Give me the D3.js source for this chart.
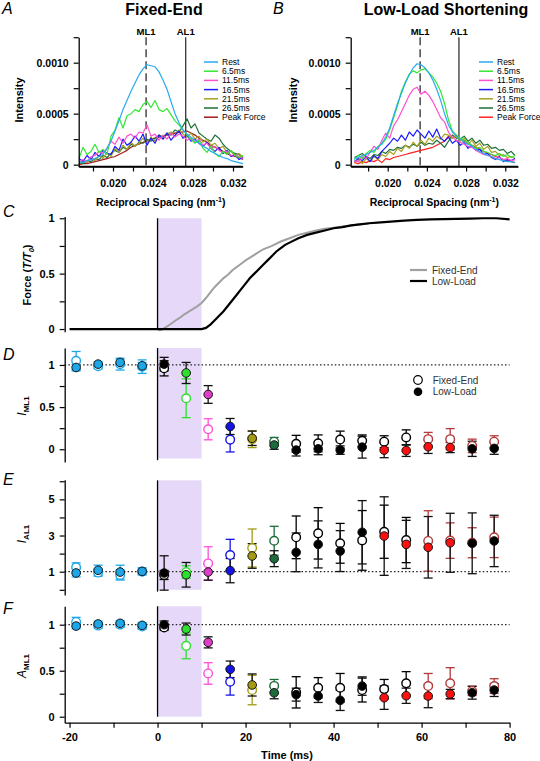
<!DOCTYPE html>
<html><head><meta charset="utf-8">
<script src="https://cdn.jsdelivr.net/npm/d3@7"></script>
<style>body{margin:0;background:#fff}svg{display:block}</style>
</head><body><svg id="c" width="540" height="761"></svg>
<script>
// ---------------- DATA ----------------
const spacing = [0.0166,0.0170,0.0174,0.0178,0.0182,0.0186,0.0190,0.0194,0.0198,0.0202,0.0206,0.0210,0.0214,0.0218,0.0222,0.0226,0.0230,0.0234,0.0238,0.0242,0.0246,0.0250,0.0254,0.0258,0.0262,0.0266,0.0270,0.0274,0.0278,0.0282,0.0286,0.0290,0.0294,0.0298,0.0302,0.0306,0.0310,0.0314,0.0318,0.0322,0.0326,0.0330];
const specLabels = ["Rest","6.5ms","11.5ms","16.5ms","21.5ms","26.5ms","Peak Force"];
const specColorsA = ["#29aaf0","#33e633","#ff50d0","#1a1aff","#a8a020","#1f6e3a","#a01c1c"];
const specColorsB = ["#29aaf0","#33e633","#ff50d0","#1a1aff","#a8a020","#1f6e3a","#ff2222"];
// intensities in units of 1e-4
const fixedRest  = [0.3,0.2,0.4,0.5,0.6,0.8,1.0,1.6,2.3,3.3,4.3,5.4,6.3,7.2,8.0,8.8,9.4,9.8,9.7,9.6,9.1,8.3,7.4,6.2,5.0,4.1,3.4,3.0,2.7,2.4,2.1,1.8,1.6,1.3,1.1,0.9,0.7,0.6,0.4,0.3,0.2,0.1];
const fixed6_5   = [0.6,1.7,1.0,1.3,2.0,1.2,1.5,1.0,2.8,3.4,4.6,3.6,4.8,5.0,5.4,5.2,5.9,6.2,5.6,6.3,5.4,5.2,5.5,4.9,4.3,3.9,3.4,2.9,2.5,2.1,2.4,1.6,1.2,1.8,1.1,0.8,1.3,1.0,1.4,0.9,0.7,0.9];
const fixed11_5  = [0.3,0.5,0.3,0.8,0.9,1.3,1.1,1.6,2.3,2.0,2.7,2.1,2.8,3.0,2.6,3.2,3.1,3.9,2.8,3.0,2.4,2.9,2.5,3.1,2.7,3.0,2.8,2.4,2.6,2.2,2.5,1.9,2.1,1.6,1.8,1.4,1.2,1.3,0.9,1.0,0.8,0.6];
const fixed16_5  = [0.6,0.3,0.9,0.5,1.2,0.8,1.4,1.1,1.0,1.8,1.4,2.5,1.9,2.2,2.8,2.3,3.0,1.9,2.6,2.1,2.9,2.5,3.1,2.4,2.9,3.3,2.6,2.9,2.3,2.5,2.1,1.8,2.2,1.6,1.3,1.7,1.1,1.4,0.8,1.0,0.5,0.7];
const fixed21_5  = [0.1,0.4,0.2,0.6,0.4,0.9,0.6,1.2,0.8,1.6,1.2,1.9,1.5,2.2,1.8,2.1,2.6,2.0,2.7,2.3,2.9,2.5,3.0,3.2,2.8,3.4,3.0,2.7,3.1,2.5,2.8,2.2,2.5,1.9,2.1,1.6,1.8,1.2,1.3,0.9,1.1,0.7];
const fixed26_5  = [0.2,0.1,0.4,0.3,0.6,0.5,0.9,0.7,1.1,1.4,1.2,1.7,1.5,2.0,1.8,2.2,2.1,2.5,2.3,2.6,2.9,2.7,3.1,2.9,3.4,3.2,3.8,4.5,3.6,4.0,3.1,2.8,2.5,2.3,2.9,2.6,2.0,1.6,1.3,1.1,1.0,0.7];
const fixedPeak  = [0.0,0.1,0.1,0.2,0.3,0.4,0.5,0.6,0.7,0.8,1.0,1.2,1.4,1.7,1.9,2.0,2.2,2.3,2.5,2.6,2.7,2.8,2.9,3.0,3.1,3.2,3.2,3.3,3.1,2.9,2.6,2.4,2.2,1.9,1.7,1.5,1.3,1.1,0.9,0.8,0.7,0.5];
const lowRest    = [0.6,0.7,0.9,1.0,1.2,1.4,1.7,2.1,2.7,3.6,4.8,6.0,7.0,8.0,8.8,9.5,9.9,9.8,9.5,9.0,8.3,7.4,6.3,5.0,3.9,3.2,2.8,2.5,2.2,2.0,1.8,1.5,1.3,1.1,0.9,0.8,0.6,0.5,0.4,0.3,0.3,0.2];
const low6_5     = [0.5,0.9,0.6,1.1,1.4,1.2,1.8,2.0,2.5,3.4,4.6,5.8,7.2,8.1,8.9,9.2,9.0,9.3,9.4,9.0,8.6,8.0,7.2,6.0,4.4,3.3,2.9,2.6,2.4,2.2,1.9,1.6,1.7,1.3,1.2,1.0,0.9,1.1,0.8,1.0,0.7,0.9];
const low11_5    = [0.4,0.3,0.8,0.6,1.2,1.8,1.5,2.4,3.1,2.6,3.8,4.4,5.2,6.0,6.8,7.4,7.6,6.9,7.2,6.8,6.2,5.4,4.6,4.2,3.2,2.7,2.4,2.2,2.0,1.8,1.7,1.4,1.2,1.0,0.9,0.8,0.6,0.7,0.5,0.6,0.4,0.5];
const low16_5    = [0.3,0.6,0.4,0.8,0.3,0.9,0.6,1.3,1.7,2.1,2.6,2.3,2.9,2.4,3.2,2.8,3.4,3.0,2.6,3.3,2.7,3.5,2.6,2.3,2.7,2.1,2.4,1.9,2.2,1.6,1.9,1.4,1.5,1.0,1.1,0.7,0.5,0.8,0.3,0.5,0.4,0.6];
const low21_5    = [0.2,0.5,0.1,0.6,0.3,0.8,0.5,1.0,0.8,1.3,1.0,1.6,1.3,1.9,1.6,2.2,1.8,2.4,2.0,2.6,2.3,2.8,2.5,3.0,2.9,2.6,2.8,2.3,2.6,2.0,2.4,1.8,2.1,1.5,1.8,1.2,1.3,0.9,1.0,0.7,0.8,0.6];
const low26_5    = [0.7,0.9,1.1,0.8,0.6,1.0,0.9,1.3,1.1,1.5,1.4,1.7,1.6,1.9,1.7,2.0,1.8,2.2,1.9,2.1,2.0,2.4,2.1,1.7,2.3,2.9,2.6,2.5,2.8,2.3,2.6,2.1,2.4,1.9,2.0,1.6,1.7,1.4,1.5,1.1,1.3,0.9];
const lowPeak    = [0.2,0.1,0.3,0.2,0.4,0.3,0.5,0.2,0.6,0.5,0.7,0.8,0.9,1.0,1.1,1.2,1.3,1.4,1.5,1.6,1.7,1.9,2.1,2.3,2.8,2.6,2.9,2.5,2.3,2.1,1.9,1.7,1.5,1.3,1.1,1.0,0.8,0.7,0.5,0.4,0.3,0.2];
const ML1 = 0.02331, AL1 = 0.02727;
const specYTicks = [0,2.5,5,7.5,10,12.5];
const specYLabels = ["0","","0.0005","","0.0010",""];
const specXTicks = [0.018,0.020,0.022,0.024,0.026,0.028,0.030,0.032];
const specXLabels = ["","0.020","","0.024","","0.028","","0.032"];

// Force traces
const forceLowT   = [-20,0,5,10,11,12,13,14,15,16,17,18,19,20,21,22,23,24,25,26,27,28,29,30,32,34,36,38,40,42,44,46,48,50,53,56,59,62,65,68,71,74,77,80];
const forceLowV   = [0,0,0,0,0.01,0.04,0.08,0.12,0.16,0.21,0.26,0.31,0.36,0.41,0.46,0.50,0.54,0.58,0.62,0.66,0.70,0.73,0.76,0.78,0.82,0.85,0.87,0.89,0.91,0.92,0.935,0.945,0.955,0.96,0.97,0.978,0.985,0.99,0.993,0.995,0.997,1.0,1.0,0.99];
const forceFixedT = [0,0.5,1,2,3,4,5,6,7,8,9,10,11,12,13,14,15,16,17,18,19,20,22,24,26,28,30,32,34,36,38,40,42,44,46,48];
const forceFixedV = [0,-0.01,-0.005,0.02,0.045,0.075,0.10,0.13,0.155,0.18,0.205,0.235,0.28,0.33,0.38,0.42,0.46,0.49,0.53,0.56,0.59,0.62,0.67,0.72,0.75,0.79,0.82,0.85,0.87,0.89,0.905,0.915,0.925,0.935,0.945,0.95];

// Time-resolved reflection data
const times = [-18.5,-13.5,-8.5,-3.5,1.5,6.5,11.5,16.5,21.5,26.5,31.5,36.5,41.5,46.5,51.5,56.5,61.5,66.5,71.5,76.5];
const imlFixed    = [1.05,0.985,1.01,0.98,0.96,0.605,0.237,0.114,0.12,0.09,0.065,0.07,0.115,0.10,0.09,0.14,0.12,0.12,0.04,0.09];
const imlFixedErr = [0.11,0.03,0.07,0.08,0.09,0.23,0.125,0.146,0.10,0.05,0.10,0.10,0.10,0.07,0.07,0.09,0.08,0.125,0.08,0.07];
const imlLow      = [0.97,1.01,1.03,0.99,1.01,0.905,0.65,0.27,0.13,0.05,-0.01,0.005,-0.01,0.025,-0.01,-0.015,0.03,0.02,0.005,0.01];
const imlLowErr   = [0.04,0.03,0.04,0.04,0.08,0.125,0.105,0.095,0.085,0.05,0.07,0.07,0.05,0.13,0.09,0.07,0.08,0.06,0.09,0.07];
const ialFixed    = [1.24,0.95,0.82,1.0,0.82,0.98,1.46,1.92,2.31,2.71,2.9,3.12,2.57,2.73,3.21,2.75,2.7,2.72,2.6,2.9];
const ialFixedErr = [0.25,0.2,0.28,0.15,0.25,0.35,0.92,0.87,1.05,0.8,1.18,1.42,1.1,1.65,1.47,1.25,1.67,0.98,0.83,1.12];
const ialLow      = [0.93,1.08,0.98,1.02,0.93,0.83,0.98,1.06,1.87,1.72,2.07,2.51,2.14,3.18,2.97,2.51,2.35,2.6,2.57,2.7];
const ialLowErr   = [0.22,0.28,0.38,0.2,0.95,0.68,0.45,0.67,0.68,0.44,1.07,1.3,1.13,1.75,2.17,1.33,1.7,1.63,1.68,1.42];
const amlFixed    = [1.03,0.99,1.0,0.98,0.97,0.77,0.47,0.38,0.29,0.335,0.265,0.315,0.315,0.29,0.30,0.363,0.333,0.363,0.28,0.333];
const amlFixedErr = [0.05,0.03,0.03,0.03,0.03,0.14,0.117,0.145,0.16,0.07,0.17,0.11,0.155,0.13,0.105,0.127,0.137,0.17,0.05,0.08];
const amlLow      = [0.985,1.008,1.015,0.993,1.0,0.953,0.808,0.515,0.345,0.26,0.24,0.225,0.178,0.333,0.207,0.228,0.225,0.247,0.261,0.29];
const amlLowErr   = [0.03,0.03,0.03,0.03,0.04,0.065,0.06,0.09,0.12,0.065,0.07,0.07,0.11,0.1,0.127,0.083,0.127,0.05,0.07,0.07];
const cRest="#1ea7e8", cG="#2ee02e", cPo="#ff4fd6", cPf="#e03ccc", cB="#1414e6", cO="#a39b14", cDG="#1d6b3a", cK="#000000", cDR="#b23a3a", cR="#ff1010";
const fixedColors = [cRest,cRest,cRest,cRest,cK,cG,cPo,cB,cO,cDG,cK,cK,cK,cK,cK,cK,cDR,cDR,cDR,cDR];
const lowColors   = [cRest,cRest,cRest,cRest,cK,cG,cPf,cB,cO,cDG,cK,cK,cK,cK,cR,cR,cR,cR,cK,cK];
const timeTicks = [-20,-10,0,10,20,30,40,50,60,70,80];
const timeLabels = ["-20","","0","","20","","40","","60","","80"];

// ---------------- DRAW ----------------
const FONT = '"Liberation Sans", Arial, Helvetica, sans-serif';
const svg = d3.select("#c").attr("font-family", FONT);

function styleAxis(g, size) {
  g.select(".domain").attr("stroke","#000").attr("stroke-width",1.3);
  g.selectAll(".tick line").attr("stroke","#000").attr("stroke-width",1.2);
  g.selectAll(".tick text").attr("font-family",FONT).attr("font-weight","bold").attr("font-size",size).attr("fill","#000");
}
function yAxis(scale, x, vals, labels, size) {
  const g = svg.append("g").attr("transform",`translate(${x},0)`)
    .call(d3.axisLeft(scale).tickValues(vals).tickSize(5).tickSizeOuter(0).tickPadding(5).tickFormat((d,i)=>labels[i]));
  styleAxis(g, size); return g;
}
function xAxis(scale, y, vals, labels, size, pad) {
  const g = svg.append("g").attr("transform",`translate(0,${y})`)
    .call(d3.axisBottom(scale).tickValues(vals).tickSize(5).tickSizeOuter(0).tickPadding(pad).tickFormat((d,i)=>labels[i]));
  styleAxis(g, size); return g;
}
function panelLetter(t, x, y) {
  svg.append("text").attr("x",x).attr("y",y).attr("font-size",16).attr("font-style","italic").text(t);
}

// ---- Spectra panels A & B ----
const ySpec = d3.scaleLinear().domain([-0.18,12.5]).range([166.5,37.2]);
function specPanel(xs, axisX, series, colors, title, titleX, letter, letterX, ylabX, legX) {
  panelLetter(letter, letterX, 14);
  svg.append("text").attr("x",titleX).attr("y",15).attr("text-anchor","middle").attr("font-weight","bold").attr("font-size",16).text(title);
  // reference lines
  svg.append("line").attr("x1",xs(ML1)).attr("x2",xs(ML1)).attr("y1",ySpec(12.5)).attr("y2",ySpec(-0.18))
    .attr("stroke","#555").attr("stroke-width",1.6).attr("stroke-dasharray","8,4");
  svg.append("line").attr("x1",xs(AL1)).attr("x2",xs(AL1)).attr("y1",ySpec(12.5)).attr("y2",ySpec(-0.18))
    .attr("stroke","#333").attr("stroke-width",1.3);
  svg.append("text").attr("x",xs(ML1)).attr("y",35).attr("text-anchor","middle").attr("font-weight","bold").attr("font-size",9.5).text("ML1");
  svg.append("text").attr("x",xs(AL1)).attr("y",35).attr("text-anchor","middle").attr("font-weight","bold").attr("font-size",9.5).text("AL1");
  const line = d3.line().x((d,i)=>xs(spacing[i])).y(d=>ySpec(d));
  for (let k = series.length-1; k >= 0; k--) {
    svg.append("path").attr("d",line(series[k])).attr("fill","none").attr("stroke",colors[k]).attr("stroke-width",1.2).attr("stroke-linejoin","round");
  }
  yAxis(ySpec, axisX, specYTicks, specYLabels, 10.5);
  xAxis(xs, 166.5, specXTicks, specXLabels, 10.5, 8);
  svg.append("line").attr("x1",axisX).attr("x2",xs.range()[1]).attr("y1",166.5).attr("y2",166.5).attr("stroke","#000").attr("stroke-width",1.3);
  svg.append("text").attr("transform",`translate(${ylabX},${100}) rotate(-90)`).attr("text-anchor","middle").attr("font-weight","bold").attr("font-size",11).text("Intensity");
  const t = svg.append("text").attr("x",(axisX+xs.range()[1])/2).attr("y",206).attr("text-anchor","middle").attr("font-weight","bold").attr("font-size",10.5);
  t.append("tspan").text("Reciprocal Spacing (nm");
  t.append("tspan").attr("font-size",7).attr("dy",-4).text("-1");
  t.append("tspan").attr("dy",4).text(")");
  // legend
  specLabels.forEach((lab,i)=>{
    const y = 62 + i*9.2;
    svg.append("line").attr("x1",legX).attr("x2",legX+14).attr("y1",y).attr("y2",y).attr("stroke",colors[i]).attr("stroke-width",1.5);
    svg.append("text").attr("x",legX+18).attr("y",y+3).attr("font-size",8.5).text(lab);
  });
}
const xA = d3.scaleLinear().domain([0.01657,0.03297]).range([78.7,242.7]);
const xB = d3.scaleLinear().domain([0.01622,0.0333]).range([350.7,518]);
specPanel(xA, 78.7, [fixedRest,fixed6_5,fixed11_5,fixed16_5,fixed21_5,fixed26_5,fixedPeak], specColorsA, "Fixed-End", 164, "A", 2, 23, 204);
specPanel(xB, 350.7, [lowRest,low6_5,low11_5,low16_5,low21_5,low26_5,lowPeak], specColorsB, "Low-Load Shortening", 446, "B", 273, 297, 479);

// ---- Time panels ----
const xT = d3.scaleLinear().domain([-21.1,80]).range([64.7,509.6]);
const AX = 64.7;

function shadeAndZero(ys, top, bottom, zeroBottom) {
  svg.append("rect").attr("x",xT(0)).attr("width",xT(10)-xT(0)).attr("y",ys(top)).attr("height",ys(bottom)-ys(top)).attr("fill","#e6d8f8");
  svg.append("line").attr("x1",xT(0)).attr("x2",xT(0)).attr("y1",ys(top)).attr("y2",ys(zeroBottom)).attr("stroke","#000").attr("stroke-width",1.3);
}
function dotted(ys) {
  svg.append("line").attr("x1",AX).attr("x2",xT(80)).attr("y1",ys(1)).attr("y2",ys(1)).attr("stroke","#222").attr("stroke-width",1.2).attr("stroke-dasharray","1.5,2.2");
}
function points(ys, fv, fe, lv, le) {
  const cap = 4.5;
  const draw = (vals, errs, colorsArr, filled) => {
    vals.forEach((v,i)=>{
      const x = xT(times[i]);
      const ec = filled ? (i < 4 ? cRest : "#111") : colorsArr[i];
      const g = svg.append("g").attr("stroke",ec).attr("stroke-width",1.3);
      g.append("line").attr("x1",x).attr("x2",x).attr("y1",ys(v-errs[i])).attr("y2",ys(v+errs[i]));
      g.append("line").attr("x1",x-cap).attr("x2",x+cap).attr("y1",ys(v-errs[i])).attr("y2",ys(v-errs[i]));
      g.append("line").attr("x1",x-cap).attr("x2",x+cap).attr("y1",ys(v+errs[i])).attr("y2",ys(v+errs[i]));
    });
  };
  draw(fv, fe, fixedColors, false);
  draw(lv, le, lowColors, true);
  fv.forEach((v,i)=>{
    svg.append("circle").attr("cx",xT(times[i])).attr("cy",ys(v)).attr("r",4.3).attr("fill","#fff").attr("stroke",fixedColors[i]).attr("stroke-width",1.4);
  });
  lv.forEach((v,i)=>{
    svg.append("circle").attr("cx",xT(times[i])).attr("cy",ys(v)).attr("r",4.3).attr("fill",lowColors[i]).attr("stroke","#111").attr("stroke-width",1);
  });
}
function subLabel(x, y, main, sub, italicMain) {
  const t = svg.append("text").attr("transform",`translate(${x},${y}) rotate(-90)`).attr("text-anchor","middle").attr("font-size",12);
  t.append("tspan").attr("font-style","italic").attr("font-weight", italicMain ? "normal" : "bold").text(main);
  t.append("tspan").attr("font-size",8).attr("font-weight","bold").attr("dy",3).text(sub);
}

// C
const yC = d3.scaleLinear().domain([-0.025,1.015]).range([331.8,216.6]);
panelLetter("C", 3, 217);
shadeAndZero(yC, 1, 0, 0);
const lineF = (ts) => d3.line().x((d,i)=>xT(ts[i])).y(d=>yC(d));
svg.append("path").attr("d",lineF(forceFixedT)(forceFixedV)).attr("fill","none").attr("stroke","#a0a0a0").attr("stroke-width",2);
svg.append("path").attr("d",lineF(forceLowT)(forceLowV)).attr("fill","none").attr("stroke","#000").attr("stroke-width",2.2);
yAxis(yC, AX, [0,0.25,0.5,0.75,1], ["0","","0.5","","1"], 11);
{
  const t = svg.append("text").attr("transform",`translate(31,275) rotate(-90)`).attr("text-anchor","middle").attr("font-size",11).attr("font-weight","bold");
  t.append("tspan").text("Force (");
  t.append("tspan").attr("font-style","italic").text("T/T");
  t.append("tspan").attr("font-style","italic").attr("font-size",7.5).attr("dy",3).text("0");
  t.append("tspan").attr("dy",-3).text(")");
}
[["Fixed-End","#a0a0a0",270],["Low-Load","#000",281]].forEach(([lab,col,y])=>{
  svg.append("line").attr("x1",410).attr("x2",427).attr("y1",y).attr("y2",y).attr("stroke",col).attr("stroke-width",2.2);
  svg.append("text").attr("x",432).attr("y",y+3.5).attr("font-size",10).attr("fill","#333").text(lab);
});

// D
const yD = d3.scaleLinear().domain([-0.15,1.2]).range([461.9,348.1]);
panelLetter("D", 3, 360);
shadeAndZero(yD, 1.2, -0.11, -0.13);
dotted(yD);
points(yD, imlFixed, imlFixedErr, imlLow, imlLowErr);
yAxis(yD, AX, [0,0.25,0.5,0.75,1], ["0","","0.5","","1"], 11);
subLabel(26, 406, "I", "ML1", true);
svg.append("circle").attr("cx",418).attr("cy",380).attr("r",4.3).attr("fill","#fff").attr("stroke","#000").attr("stroke-width",1.2);
svg.append("circle").attr("cx",418).attr("cy",391.7).attr("r",4.3).attr("fill","#000");
svg.append("text").attr("x",432.7).attr("y",383.5).attr("font-size",10).attr("fill","#333").text("Fixed-End");
svg.append("text").attr("x",432.7).attr("y",395.2).attr("font-size",10).attr("fill","#333").text("Low-Load");

// E
const yE = d3.scaleLinear().domain([-0.29,6.08]).range([595.05,479.8]);
panelLetter("E", 3, 485);
shadeAndZero(yE, 6.05, 0, -0.1);
dotted(yE);
points(yE, ialFixed, ialFixedErr, ialLow, ialLowErr);
yAxis(yE, AX, [0,1,2,3,4,5,6], ["","1","","3","","5",""], 11);
subLabel(26, 534, "I", "AL1", true);

// F
const yF = d3.scaleLinear().domain([-0.065,1.2]).range([722.7,606.3]);
panelLetter("F", 3, 614);
shadeAndZero(yF, 1.2, 0, 0);
dotted(yF);
points(yF, amlFixed, amlFixedErr, amlLow, amlLowErr);
yAxis(yF, AX, [0,0.25,0.5,0.75,1], ["0","","0.5","","1"], 11);
subLabel(26, 666, "A", "ML1", true);
xAxis(xT, 722.7, timeTicks, timeLabels, 11, 6);
svg.append("text").attr("x",287).attr("y",758.5).attr("text-anchor","middle").attr("font-weight","bold").attr("font-size",11).text("Time (ms)");
</script></body></html>
